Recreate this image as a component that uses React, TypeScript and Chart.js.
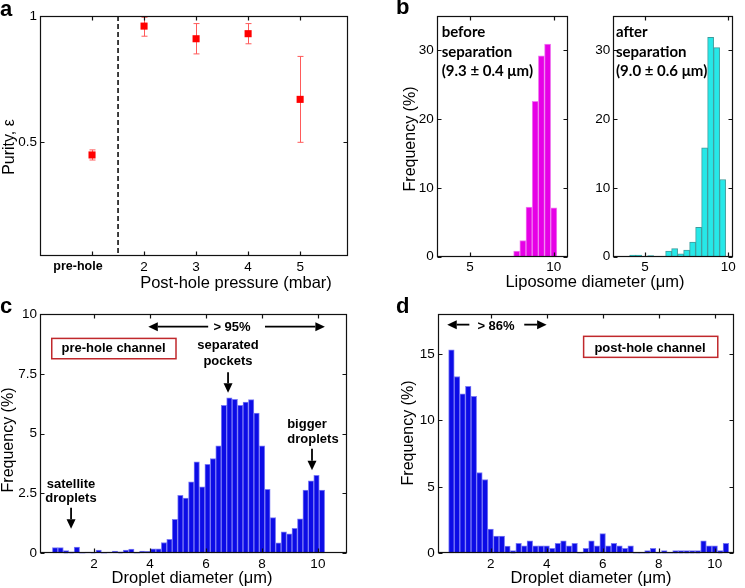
import React, { useEffect, useRef } from "react";
import { Chart, registerables } from "chart.js";
Chart.register(...registerables);

const SANS = "'Liberation Sans', Arial, Helvetica, sans-serif";
const CALIBRI = "Lato, 'Open Sans', sans-serif";

// ---------- Panel a ----------
const A_CATEGORY_X = [1, 2, 3, 4, 5];
const A_CATEGORY_LABELS = ["", "2", "3", "4", "5"];
const A_FIRST_CATEGORY = "pre-hole";
const A_PURITY = [0.45, 0.96, 0.91, 0.93, 0.67];
const A_PURITY_LOW = [0.43, 0.92, 0.85, 0.89, 0.5];
const A_PURITY_HIGH = [0.47, 0.995, 0.97, 0.97, 0.84];
const A_Y_TICKS = [0.5, 1];
const A_Y_TICK_LABELS = ["0.5", "1"];
const A_DIVIDER = 1.5;

// ---------- Panel b ----------
const B_BEFORE_BINS = [7.79, 8.16, 8.53, 8.9, 9.27, 9.64, 10.01];
const B_BEFORE_FREQ = [0.8, 2.3, 7.2, 22.6, 29.2, 30.9, 7.1];
const B_AFTER_BINS = [4.26, 4.62, 4.98, 5.34, 5.7, 6.06, 6.42, 6.78, 7.14, 7.5, 7.86, 8.22, 8.58, 8.94, 9.3, 9.66];
const B_AFTER_FREQ = [0.2, 0.2, 0, 0.15, 0, 0, 0.8, 1.15, 0.4, 0.95, 2.1, 4.25, 15.8, 31.9, 30.4, 11.2];
const B_X_TICKS = [5, 10];
const B_Y_TICKS = [0, 10, 20, 30];

// ---------- Panel c ----------
const C_BINS = [
  0.61, 0.805, 0.999, 1.194, 1.388, 1.583, 1.778, 1.972, 2.167, 2.361,
  2.556, 2.751, 2.945, 3.14, 3.334, 3.529, 3.724, 3.918, 4.113, 4.307,
  4.502, 4.697, 4.891, 5.086, 5.28, 5.475, 5.67, 5.864, 6.059, 6.253,
  6.448, 6.643, 6.837, 7.032, 7.226, 7.421, 7.616, 7.81, 8.005, 8.199,
  8.394, 8.589, 8.783, 8.978, 9.172, 9.367, 9.562, 9.756, 9.951, 10.145,
];
const C_FREQ = [
  0.24, 0.24, 0.11, 0.06, 0.26, 0, 0.05, 0.03, 0.13, 0,
  0.05, 0.09, 0.06, 0.13, 0.18, 0, 0.09, 0.08, 0.19, 0.19,
  0.45, 0.58, 1.42, 2.42, 2.31, 2.99, 3.82, 2.78, 3.72, 3.96,
  4.49, 6.18, 6.5, 6.43, 6.18, 6.32, 6.42, 5.86, 4.49, 2.67,
  1.49, 0.44, 0.9, 0.81, 1.04, 1.44, 2.64, 3.03, 3.26, 2.64,
];
const C_X_TICKS = [2, 4, 6, 8, 10];
const C_Y_TICKS = [0, 2.5, 5, 7.5, 10];

// ---------- Panel d ----------
const D_BINS = [
  0.6, 0.8, 1.0, 1.2, 1.4, 1.6, 1.8, 2.0, 2.2, 2.4,
  2.6, 2.8, 3.0, 3.2, 3.4, 3.6, 3.8, 4.0, 4.2, 4.4,
  4.6, 4.8, 5.0, 5.2, 5.4, 5.6, 5.8, 6.0, 6.2, 6.4,
  6.6, 6.8, 7.0, 7.2, 7.4, 7.6, 7.8, 8.0, 8.2, 8.4,
  8.6, 8.8, 9.0, 9.2, 9.4, 9.6, 9.8, 10.0, 10.2, 10.4,
];
const D_FREQ = [
  15.3, 13.3, 12.0, 12.55, 11.8, 6.08, 5.55, 1.83, 1.3, 1.3,
  0.55, 0.2, 0.75, 0.57, 0.93, 0.57, 0.57, 0.57, 0.37, 0.75,
  0.93, 0.57, 0.75, 0, 0.37, 0.93, 0.57, 1.48, 0.57, 0.75,
  0.57, 0.37, 0.57, 0, 0, 0.2, 0.37, 0.05, 0.2, 0,
  0.2, 0.2, 0.2, 0.2, 0.2, 0.93, 0.57, 0.57, 0.2, 0.75,
];
const D_X_TICKS = [2, 4, 6, 8, 10];
const D_Y_TICKS = [0, 5, 10, 15];

// ---------- Annotations (data coordinates) ----------
const C_ARROWS = [
  { from: [6.08, 9.47], to: [3.94, 9.47] },
  { from: [8.11, 9.47], to: [10.25, 9.47] },
  { from: [6.79, 7.57], to: [6.79, 6.71] },
  { from: [9.79, 4.37], to: [9.79, 3.47] },
  { from: [1.18, 1.9], to: [1.18, 1.03] },
];
const C_BOXES = [{ x1: 0.49, y1: 8.98, x2: 4.93, y2: 8.13 }];
const D_ARROWS = [
  { from: [1.24, 17.2], to: [0.45, 17.2] },
  { from: [3.2, 17.2], to: [4.0, 17.2] },
];
const D_BOXES = [{ x1: 5.32, y1: 16.32, x2: 10.11, y2: 14.74 }];

type Area = { left: number; top: number; right: number; bottom: number };

const fmt = (v: number) => String(v);

const framePlugin = {
  id: "frame",
  afterDatasetsDraw(chart: any) {
    const { ctx, chartArea: a, scales } = chart;
    const x = scales.x, y = scales.y;
    const l = Math.round(a.left) + 0.5, r = Math.round(a.right) - 0.5;
    const t = Math.round(a.top) + 0.5, b = Math.round(a.bottom) - 0.5;
    ctx.save();
    ctx.strokeStyle = "#111";
    ctx.lineWidth = 1.2;
    ctx.strokeRect(l, t, r - l, b - t);
    ctx.beginPath();
    const L = 4;
    for (const tk of x.ticks) {
      const p = Math.round(x.getPixelForValue(tk.value)) + 0.5;
      ctx.moveTo(p, b); ctx.lineTo(p, b - L);
      ctx.moveTo(p, t); ctx.lineTo(p, t + L);
    }
    for (const tk of y.ticks) {
      const p = Math.round(y.getPixelForValue(tk.value)) + 0.5;
      ctx.moveTo(l, p); ctx.lineTo(l + L, p);
      ctx.moveTo(r, p); ctx.lineTo(r - L, p);
    }
    ctx.stroke();
    ctx.restore();
  },
};

function annotationPlugin(arrows: any[], boxes: any[]) {
  return {
    id: "annot",
    afterDraw(chart: any) {
      const { ctx, scales } = chart;
      const x = scales.x, y = scales.y;
      ctx.save();
      for (const bx of boxes) {
        const x1 = x.getPixelForValue(bx.x1), x2 = x.getPixelForValue(bx.x2);
        const y1 = y.getPixelForValue(bx.y1), y2 = y.getPixelForValue(bx.y2);
        ctx.fillStyle = "#fff";
        ctx.fillRect(x1, y1, x2 - x1, y2 - y1);
        ctx.strokeStyle = "#c0282c";
        ctx.lineWidth = 1.5;
        ctx.strokeRect(x1, y1, x2 - x1, y2 - y1);
      }
      ctx.strokeStyle = "#000";
      ctx.fillStyle = "#000";
      for (const ar of arrows) {
        const x1 = x.getPixelForValue(ar.from[0]), y1 = y.getPixelForValue(ar.from[1]);
        const x2 = x.getPixelForValue(ar.to[0]), y2 = y.getPixelForValue(ar.to[1]);
        const ang = Math.atan2(y2 - y1, x2 - x1);
        const H = 9.5, W = 4.5;
        const cx = Math.cos(ang), sy = Math.sin(ang);
        const bx = x2 - H * cx, by = y2 - H * sy;
        ctx.lineWidth = 1.8;
        ctx.beginPath();
        ctx.moveTo(x1, y1);
        ctx.lineTo(bx, by);
        ctx.stroke();
        ctx.beginPath();
        ctx.moveTo(x2, y2);
        ctx.lineTo(bx - W * sy, by + W * cx);
        ctx.lineTo(bx + W * sy, by - W * cx);
        ctx.closePath();
        ctx.fill();
      }
      ctx.restore();
    },
  };
}

function scalesFor(o: {
  width: number; height: number; area: Area;
  xMin: number; xMax: number; yMin: number; yMax: number;
  xTicks: number[]; xLabels?: string[]; yTicks: number[]; yLabels?: string[];
  tickSize?: number;
}) {
  const tickFont = { family: SANS, size: o.tickSize ?? 13.5 };
  const label = (ticks: number[], labels: string[] | undefined, v: number) => {
    const i = ticks.indexOf(v);
    return labels && i >= 0 ? labels[i] : fmt(v);
  };
  return {
    x: {
      type: "linear",
      min: o.xMin, max: o.xMax, offset: false, bounds: "data",
      grid: { display: false, drawTicks: false, offset: false },
      border: { display: false },
      ticks: {
        font: tickFont, color: "#000", padding: 3,
        maxRotation: 0, minRotation: 0, autoSkip: false,
        callback: (v: number) => label(o.xTicks, o.xLabels, v),
      },
      afterBuildTicks: (s: any) => { s.ticks = o.xTicks.map((v) => ({ value: v })); },
      afterFit: (s: any) => { s.height = o.height - o.area.bottom; s.paddingLeft = 0; s.paddingRight = 0; },
    },
    y: {
      type: "linear",
      min: o.yMin, max: o.yMax, bounds: "data",
      grid: { display: false, drawTicks: false },
      border: { display: false },
      ticks: {
        font: tickFont, color: "#000", padding: 3, autoSkip: false,
        callback: (v: number) => label(o.yTicks, o.yLabels, v),
      },
      afterBuildTicks: (s: any) => { s.ticks = o.yTicks.map((v) => ({ value: v })); },
      afterFit: (s: any) => { s.width = o.area.left; s.paddingTop = 0; s.paddingBottom = 0; },
    },
  };
}

function histConfig(o: {
  width: number; height: number; area: Area;
  bins: number[]; freq: number[]; color: string; edge: string;
  xMin: number; xMax: number; yMin: number; yMax: number;
  xTicks: number[]; yTicks: number[]; yLabels?: string[];
  arrows?: any[]; boxes?: any[];
}) {
  return {
    type: "bar",
    data: {
      datasets: [{
        data: o.bins.map((b, i) => ({ x: b, y: o.freq[i] })),
        backgroundColor: o.color,
        borderColor: o.edge,
        borderWidth: (c: any) => (c.raw && c.raw.y > 0 ? 1 : 0),
        borderSkipped: "bottom",
        barPercentage: 1,
        categoryPercentage: 1,
      }],
    },
    options: {
      responsive: false,
      animation: false,
      events: [],
      layout: { padding: { left: 0, top: o.area.top, right: o.width - o.area.right, bottom: 0 } },
      plugins: { legend: { display: false }, tooltip: { enabled: false } },
      scales: scalesFor(o),
    },
    plugins: [framePlugin, annotationPlugin(o.arrows ?? [], o.boxes ?? [])],
  };
}

function purityConfig() {
  const width = 370, height = 295;
  const area = { left: 40, top: 16, right: 348, bottom: 256 };
  const errorPlugin = {
    id: "errors",
    beforeDatasetsDraw(chart: any) {
      const { ctx, scales, chartArea } = chart;
      const x = scales.x, y = scales.y;
      ctx.save();
      ctx.strokeStyle = "#ff5a5a";
      ctx.lineWidth = 1;
      A_CATEGORY_X.forEach((cx, i) => {
        const px = Math.round(x.getPixelForValue(cx)) + 0.5;
        const lo = y.getPixelForValue(A_PURITY_LOW[i]);
        const hi = y.getPixelForValue(A_PURITY_HIGH[i]);
        ctx.beginPath();
        ctx.moveTo(px, lo); ctx.lineTo(px, hi);
        ctx.moveTo(px - 3, lo); ctx.lineTo(px + 3, lo);
        ctx.moveTo(px - 3, hi); ctx.lineTo(px + 3, hi);
        ctx.stroke();
      });
      ctx.setLineDash([5, 3]);
      ctx.strokeStyle = "#000";
      ctx.lineWidth = 1.5;
      const dx = x.getPixelForValue(A_DIVIDER);
      ctx.beginPath();
      ctx.moveTo(dx, chartArea.top);
      ctx.lineTo(dx, chartArea.bottom);
      ctx.stroke();
      ctx.restore();
    },
  };
  return {
    type: "scatter",
    data: {
      datasets: [{
        data: A_CATEGORY_X.map((v, i) => ({ x: v, y: A_PURITY[i] })),
        pointStyle: "rect",
        pointRadius: 5,
        backgroundColor: "#ff0000",
        borderColor: "#ff0000",
        borderWidth: 0,
        showLine: false,
      }],
    },
    options: {
      responsive: false,
      animation: false,
      events: [],
      layout: { padding: { left: 0, top: area.top, right: width - area.right, bottom: 0 } },
      plugins: { legend: { display: false }, tooltip: { enabled: false } },
      scales: scalesFor({
        width, height, area,
        xMin: 0, xMax: 5.92, yMin: 0.05, yMax: 1,
        xTicks: A_CATEGORY_X, xLabels: A_CATEGORY_LABELS,
        yTicks: A_Y_TICKS, yLabels: A_Y_TICK_LABELS,
      }),
    },
    plugins: [errorPlugin, framePlugin],
  };
}

function ChartBox({ left, top, width, height, build }: any) {
  const ref = useRef<HTMLCanvasElement>(null);
  useEffect(() => {
    const chart = new Chart(ref.current as HTMLCanvasElement, build() as any);
    return () => chart.destroy();
  }, []);
  return (
    <canvas
      ref={ref}
      width={width}
      height={height}
      style={{ position: "absolute", left, top, width, height }}
    />
  );
}

function Txt({ x, y, text, size = 16, bold = false, family = SANS, rotate = false, align = "center", color = "#000" }: any) {
  const tx = align === "center" ? "-50%" : "0";
  return (
    <div
      style={{
        position: "absolute", left: x, top: y,
        transform: `translate(${tx}, -50%)${rotate ? " rotate(-90deg)" : ""}`,
        fontFamily: family, fontSize: size, fontWeight: bold ? 700 : 400,
        lineHeight: 1, whiteSpace: "nowrap", color,
      }}
    >
      {text}
    </div>
  );
}

export default function App() {
  const H = 295;
  return (
    <div style={{ position: "fixed", left: 0, top: 0, width: 745, height: 588, background: "#fff", overflow: "hidden" }}>
      {/* a */}
      <ChartBox left={0} top={0} width={370} height={H} build={purityConfig} />
      {/* b */}
      <ChartBox left={395} top={0} width={190} height={H} build={() => histConfig({
        width: 190, height: H, area: { left: 41.7, top: 16, right: 173, bottom: 256.5 },
        bins: B_BEFORE_BINS, freq: B_BEFORE_FREQ, color: "#e600e6", edge: "#f07ff0",
        xMin: 3, xMax: 10.86, yMin: 0, yMax: 35, xTicks: B_X_TICKS, yTicks: B_Y_TICKS,
      })} />
      <ChartBox left={585} top={0} width={160} height={H} build={() => histConfig({
        width: 160, height: H, area: { left: 28.3, top: 16, right: 148.3, bottom: 256.5 },
        bins: B_AFTER_BINS, freq: B_AFTER_FREQ, color: "#26e8e8", edge: "#3c9c9c",
        xMin: 3.1, xMax: 10.3, yMin: 0, yMax: 35, xTicks: B_X_TICKS, yTicks: B_Y_TICKS,
      })} />
      {/* c */}
      <ChartBox left={0} top={295} width={370} height={293} build={() => histConfig({
        width: 370, height: 293, area: { left: 40, top: 19, right: 346.7, bottom: 258.3 },
        bins: C_BINS, freq: C_FREQ, color: "#0c0ce6", edge: "#7a7af5",
        xMin: 0.07, xMax: 11.03, yMin: 0, yMax: 10, xTicks: C_X_TICKS, yTicks: C_Y_TICKS,
        arrows: C_ARROWS, boxes: C_BOXES,
      })} />
      {/* d */}
      <ChartBox left={370} top={295} width={375} height={293} build={() => histConfig({
        width: 375, height: 293, area: { left: 67.7, top: 19, right: 364.3, bottom: 258.3 },
        bins: D_BINS, freq: D_FREQ, color: "#0c0ce6", edge: "#7a7af5",
        xMin: 0.11, xMax: 10.7, yMin: 0, yMax: 18, xTicks: D_X_TICKS, yTicks: D_Y_TICKS,
        arrows: D_ARROWS, boxes: D_BOXES,
      })} />

      {/* panel letters */}
      <div style={{ position: "absolute", left: 0, top: -1.6, fontFamily: SANS, fontWeight: 700, fontSize: 22, lineHeight: 1 }}>a</div>
      <div style={{ position: "absolute", left: 396, top: -3.6, fontFamily: SANS, fontWeight: 700, fontSize: 22, lineHeight: 1 }}>b</div>
      <div style={{ position: "absolute", left: 0, top: 295.4, fontFamily: SANS, fontWeight: 700, fontSize: 22, lineHeight: 1 }}>c</div>
      <div style={{ position: "absolute", left: 396, top: 294.7, fontFamily: SANS, fontWeight: 700, fontSize: 22, lineHeight: 1 }}>d</div>

      {/* a labels */}
      <Txt x={78} y={266} text={A_FIRST_CATEGORY} bold size={12.5} />
      <Txt x={9} y={147} text="Purity, ε" rotate size={16} />
      <Txt x={236} y={282} text="Post-hole pressure (mbar)" size={16.5} />

      {/* b labels */}
      <Txt x={410} y={139} text="Frequency (%)" rotate size={16} />
      <Txt x={595} y={281} text="Liposome diameter (μm)" size={16.5} />
      <Txt x={441.7} y={31} text="before" align="left" bold family={CALIBRI} size={15} />
      <Txt x={441.7} y={50.5} text="separation" align="left" bold family={CALIBRI} size={15} />
      <Txt x={441.7} y={70} text="(9.3 ± 0.4 μm)" align="left" bold family={CALIBRI} size={15} />
      <Txt x={616} y={31} text="after" align="left" bold family={CALIBRI} size={15} />
      <Txt x={616} y={50.5} text="separation" align="left" bold family={CALIBRI} size={15} />
      <Txt x={616} y={70} text="(9.0 ± 0.6 μm)" align="left" bold family={CALIBRI} size={15} />

      {/* c labels */}
      <Txt x={8} y={440} text="Frequency (%)" rotate size={16} />
      <Txt x={192} y={577} text="Droplet diameter (μm)" size={16.5} />
      <Txt x={232} y={326} text="> 95%" bold size={13} />
      <Txt x={113.5} y={346.5} text="pre-hole channel" bold size={13} />
      <Txt x={228} y={344} text="separated" bold size={13} />
      <Txt x={228} y={360} text="pockets" bold size={13} />
      <Txt x={307} y={422.5} text="bigger" bold size={13} />
      <Txt x={313} y={438} text="droplets" bold size={13} />
      <Txt x={71} y={482.5} text="satellite" bold size={13} />
      <Txt x={71} y={497} text="droplets" bold size={13} />

      {/* d labels */}
      <Txt x={408} y={433} text="Frequency (%)" rotate size={16} />
      <Txt x={591} y={577} text="Droplet diameter (μm)" size={16.5} />
      <Txt x={496} y={325} text="> 86%" bold size={13} />
      <Txt x={650} y={346.5} text="post-hole channel" bold size={13} />
    </div>
  );
}
